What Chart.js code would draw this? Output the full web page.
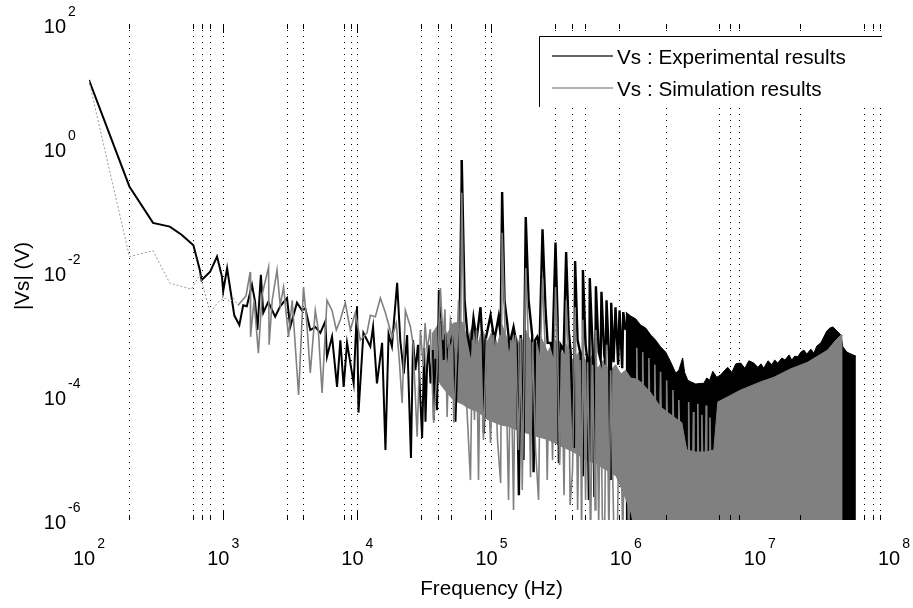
<!DOCTYPE html>
<html>
<head>
<meta charset="utf-8">
<script src="https://cdn.jsdelivr.net/npm/chart.js@4.4.0/dist/chart.umd.min.js"></script>
<style>
  html, body { margin: 0; padding: 0; background: #fff; }
  canvas { display: block; }
</style>
</head>
<body>
<canvas id="vsChart" width="913" height="608"></canvas>
<script>
// Dotted vertical grid lines (Hz)
const gridFreqs = [200, 600, 700, 800, 1000, 3000, 4000, 8000, 9000, 10000,
  30000, 40000, 50000, 90000, 100000, 300000, 400000, 500000, 900000,
  2e6, 5e6, 6e6, 7e6, 2e7, 6e7, 7e7, 8e7];
const longTickFreqs = [1000, 10000, 100000];

// Tick label exponents
const xTickExp = [2, 3, 4, 5, 6, 7, 8];
const yTickExp = [2, 0, -2, -4, -6];

// Experimental |Vs| (black)
const expFreq = [
  100, 200, 300, 400, 490, 600, 670, 690, 800, 900,
  980, 1000, 1070, 1210, 1320, 1410, 1500, 1640, 1730, 1800,
  1910, 1990, 2170, 2440, 2660, 2990, 3160, 3550, 3870, 4090,
  4460, 4860, 5300, 5770, 5940, 6480, 7060, 7470, 7910, 8380,
  9390, 9950, 10200, 11100, 12500, 13100, 14000, 15300, 16200, 17100,
  18100, 19800, 20900, 22200, 23500, 24200, 25100, 26000, 27100, 28300,
  29500, 30400, 31500, 32200, 33100, 34000, 35100, 36500, 37200, 38200,
  39300, 40500, 42900, 44000, 45200, 46700, 48500, 50900, 52000, 53900,
  55500, 57500,
  60000, 63000, 66200, 69700, 73400, 77300, 82800, 85700, 87700, 90200, 98400, 105000, 113000, 117000,
  120000, 125000, 131000, 136000, 146000, 154000, 160000, 165000, 173000, 176000,
  180000, 189000, 201000, 206000, 211000, 219000, 228000,
  240000, 253000, 262000, 275000, 285000,
  300000, 311000, 318000, 327000, 345000,
  360000, 376000, 389000, 411000,
  420000, 438000, 462000, 475000,
  480000, 503000, 516000, 532000,
  540000, 568000, 585000,
  600000, 630000, 651000,
  660000, 692000, 709000,
  720000, 753000, 773000,
  780000, 813000,
  840000, 879000,
  900000, 942000,
  960000, 1000000
];
const expVal = [
  12.5, 0.24, 0.062, 0.054, 0.040, 0.027, 0.0108, 0.0074, 0.0101, 0.0177,
  0.0084, 0.0049, 0.0115, 0.0020, 0.0014, 0.0029, 0.0028, 0.0062, 0.0033, 0.00116,
  0.0090, 0.0022, 0.0033, 0.0019, 0.0028, 0.0038, 0.0013, 0.0032, 0.0024, 0.0026,
  0.00116, 0.0013, 0.00104, 0.0016, 0.00043, 0.00091, 0.00014, 0.00079, 0.00014, 0.00072,
  0.00016, 0.0028, 5.4e-5, 0.00104, 0.00063, 0.0013, 0.00016, 0.00072, 1.35e-5, 0.001,
  0.00063, 0.0067, 0.00079, 0.00023, 0.00096, 0.000125, 1.0e-5, 0.0008, 0.00026, 0.00067,
  8.7e-5, 2.1e-5, 0.0006, 3.85e-5, 0.0003, 0.00067, 0.00016, 0.00055, 4.1e-5, 0.0004,
  5.9e-5, 0.0051, 0.00116, 0.00038, 0.001, 0.00043, 0.00067, 0.00091, 0.00055, 3.85e-5,
  0.0003, 0.0009,
  0.64, 3.5e-3, 9.6e-4, 5.5e-4, 1.8e-3, 8e-4, 2.7e-3, 6.7e-4, 2.5e-5, 8e-4, 2.0e-3, 8e-4, 1.9e-3, 9.6e-4,
  0.195, 3.5e-3, 1.5e-3, 6.7e-4, 1.3e-3, 6.7e-4, 2.5e-6, 9.6e-4, 9.3e-6, 1.16e-3,
  0.077, 3.5e-3, 9.6e-4, 5.9e-6, 8e-4, 9e-4, 6e-4,
  0.049, 2.4e-3, 7.2e-4, 7.2e-4, 5.5e-4,
  0.03, 1.7e-3, 8.3e-6, 6.7e-4, 5.5e-4,
  0.021, 1.16e-3, 5.1e-4, 1.45e-5,
  0.015, 8e-4, 4.6e-4, 5.3e-6,
  0.0108, 6.7e-4, 4.1e-4, 2.1e-6,
  8e-3, 5.5e-4, 2.35e-6,
  5.9e-3, 5.1e-4, 3.8e-4,
  4.8e-3, 4.6e-4, 3.2e-4,
  3.5e-3, 3.8e-4, 4.4e-6,
  3.2e-3, 3.5e-4,
  2.7e-3, 3.2e-4,
  2.4e-3, 2.8e-4,
  2.26e-3, 1.16e-3
];

// Experimental: dense high-frequency part, upper envelope
const expBandFreq = [
  1.0e6, 1.09e6, 1.19e6, 1.29e6, 1.41e6, 1.54e6, 1.67e6, 1.82e6, 1.99e6, 2.17e6,
  2.36e6, 2.49e6, 2.66e6, 2.75e6, 2.9e6, 3.05e6, 3.33e6, 3.63e6, 3.82e6, 4.02e6,
  4.23e6, 4.46e6, 4.78e6, 5.12e6, 5.48e6, 5.77e6, 6.18e6, 6.62e6, 7.2e6, 7.73e6,
  8.28e6, 9.02e6, 9.66e6, 1.02e7, 1.07e7, 1.15e7, 1.23e7, 1.29e7, 1.36e7, 1.46e7,
  1.54e7, 1.65e7, 1.73e7, 1.82e7, 1.92e7, 2.02e7, 2.13e7, 2.24e7, 2.4e7, 2.53e7,
  2.66e7, 2.85e7, 3.0e7, 3.16e7, 3.33e7, 3.51e7, 3.69e7, 3.89e7, 4.02e7, 4.16e7,
  4.46e7, 4.78e7, 5.2e7
];
const expBandTop = [
  2.26e-3, 1.95e-3, 1.75e-3, 1.4e-3, 1.25e-3, 9.6e-4, 8.0e-4, 6.2e-4, 5.1e-4, 3.5e-4,
  2.35e-4, 2.6e-4, 4.1e-4, 2.4e-4, 1.8e-4, 1.7e-4, 1.56e-4, 1.6e-4, 1.6e-4, 1.95e-4,
  1.8e-4, 2.5e-4, 2.0e-4, 2.2e-4, 2.6e-4, 2.9e-4, 2.4e-4, 3.3e-4, 3.4e-4, 2.8e-4,
  3.7e-4, 3.4e-4, 2.9e-4, 3.3e-4, 2.8e-4, 3.7e-4, 3.2e-4, 3.8e-4, 3.4e-4, 4.1e-4,
  3.8e-4, 4.6e-4, 3.8e-4, 4.4e-4, 4.3e-4, 5.1e-4, 5.5e-4, 4.75e-4, 5.7e-4, 4.9e-4,
  6.4e-4, 7.2e-4, 9.0e-4, 1.12e-3, 1.25e-3, 1.3e-3, 1.16e-3, 1.04e-3, 9.6e-4, 6.2e-4,
  5.1e-4, 4.75e-4, 4.4e-4
];

// Simulation |Vs| (grey)
const simFreq = [
  100, 200, 300, 400, 580, 670, 800, 920, 1035, 1130,
  1190, 1290, 1390, 1480, 1590, 1600, 1700, 1830, 1950, 2180,
  2200, 2320, 2520, 2660, 2820, 3070, 3270, 3650, 3970, 4160,
  4460, 4860, 5120, 5460, 5940, 6480, 6970, 7470, 8130, 8870,
  9660, 10520, 11800, 12500, 13620, 14850, 16180, 18150, 19500, 20500,
  21570, 22800, 24880, 26000, 27920, 29520, 31000, 32000, 33120, 35000,
  37070, 39000, 41600, 43500, 45000, 46700, 48000, 49400, 51000, 52300,
  54500, 56800, 58500,
  60000, 62300, 65100, 69700, 72100, 74700, 77300, 80000, 82800, 87100,
  91800, 98400, 103500, 110900, 117000, 120000, 126200, 134000, 139000, 146000,
  151000, 158900, 165000, 169400, 176200, 180000, 188800, 195300, 202300, 213000,
  224300, 232300, 240000, 250600, 260300, 271000, 285200, 300000, 311000, 321700,
  332700, 347400, 360000, 375600, 385400, 402000, 420000, 438500, 457200, 469500,
  480000, 502700, 520000, 548000, 567400, 591800, 600000, 629500, 651000, 670000,
  696400, 720000, 750000, 773000, 813000, 866800, 902000, 951000, 1000000, 1052000,
  1127000, 1198000, 1210000, 1222000, 1327000, 1340000, 1353000, 1475000, 1490000, 1505000,
  1634000, 1650000, 1667000, 1802000, 1820000, 1838000, 2000000, 2020000, 2040000, 2228000,
  2250000, 2272000, 2465000, 2490000, 2515000, 2920000, 2950000, 2980000, 3170000, 3200000,
  3230000, 3415000, 3450000, 3485000, 3660000, 3700000, 3740000, 3940000, 3980000, 4020000,
  4210000, 4250000, 4290000
];
const simVal = [
  12, 0.0177, 0.022, 0.0066, 0.0053, 0.009, 0.0022, 0.0033, 0.0038, 0.0033,
  0.0038, 0.0029, 0.0035, 0.0041, 0.010, 0.0009, 0.0035, 0.00049, 0.0043, 0.012,
  0.00067, 0.0035, 0.0108, 0.0029, 0.0057, 0.0009, 0.0035, 0.000104, 0.0057, 0.002,
  0.000235, 0.0024, 0.00116, 0.000112, 0.0035, 0.0024, 0.00116, 0.0017, 0.0032, 0.00116,
  0.0022, 0.0008, 0.00104, 0.002, 0.0019, 0.0038, 0.0022, 0.0009, 0.0015, 0.0004,
  7.7e-5, 0.0024, 0.0013, 0.0007, 2.2e-5, 0.00116, 0.0003, 0.0015, 0.00055, 0.0012,
  3.7e-5, 0.0002, 0.0055, 0.0008, 0.0025, 4.6e-5, 0.0005, 0.0017, 0.0012, 3.7e-5,
  0.0003, 0.0035, 8.6e-5,
  0.19, 0.0017, 8.6e-5, 4.4e-6, 8e-4, 4.1e-5, 1.16e-3, 4.4e-6, 9.6e-4, 1.95e-5,
  8.6e-4, 1.75e-5, 9.6e-4, 1.95e-5, 3.95e-6, 0.043, 1.16e-3, 2.1e-6, 8e-4, 1.45e-6,
  9.6e-4, 1.35e-5, 8.6e-4, 3.05e-6, 8e-4, 0.0116, 6.7e-4, 4.9e-6, 7.4e-4, 1.35e-5,
  2.1e-6, 6.7e-4, 0.008, 6.7e-4, 4.4e-6, 6e-4, 9.3e-6, 0.0057, 5.5e-4, 7.7e-6,
  5.1e-4, 2.5e-6, 0.0035, 4.6e-4, 1.75e-6, 6.4e-6, 0.0027, 1.45e-6, 3.8e-4, 5e-7,
  0.0017, 2.1e-6, 3.5e-4, 5e-7, 3.2e-4, 1.45e-6, 0.00116, 8e-7, 2.8e-4, 1.1e-6,
  5e-7, 6.7e-4, 5e-7, 2.6e-4, 1e-6, 5e-7, 2.45e-4, 5e-7, 2.2e-4, 5e-7,
  1.6e-4, 1.5e-4, 6e-4, 1.5e-4, 1.3e-4, 5.1e-4, 1.3e-4, 1.0e-4, 4.1e-4, 1.0e-4,
  7.5e-5, 3.2e-4, 7.5e-5, 5.5e-5, 2.45e-4, 5.5e-5, 4.8e-5, 1.8e-4, 4.8e-5, 4e-5,
  1.25e-4, 4e-5, 3.3e-5, 8.6e-5, 3.3e-5, 1.1e-5, 8e-5, 1.1e-5, 1.1e-5, 5.5e-5,
  1.1e-5, 1.1e-5, 7.5e-5, 1.1e-5, 1.1e-5, 5e-5, 1.1e-5, 1.1e-5, 7e-5, 1.1e-5,
  1.1e-5, 4.5e-5, 1.1e-5
];

// Simulation: dense part, upper and lower limits
const simBandFreq = [
  36000, 41600, 46700, 52000,
  60800, 66200, 72100, 78700, 85700, 93300, 101700, 110900, 120000, 134000,
  146000, 165000, 180000, 206000, 232000, 262000, 300000, 332700, 360000, 402000,
  462000, 516000, 567000, 618000, 685000, 760000, 842000, 918000, 1000000, 1090000,
  1180000, 1290000, 1540000, 1820000, 2280000, 2620000, 2850000, 3330000, 3950000, 4540000,
  4860000, 7200000, 10200000, 12700000, 16700000, 22700000, 32000000, 36900000, 40200000, 41400000
];
const simBandTop = [
  1.0e-3, 1.6e-3, 1.0e-3, 1.5e-3,
  1.56e-3, 8e-4, 1.35e-3, 6.7e-4, 1.16e-3, 7.4e-4, 1.16e-3, 6.7e-4, 1.4e-3, 7.2e-4,
  1.08e-3, 6.4e-4, 1.16e-3, 6.0e-4, 9.3e-4, 5.1e-4, 8e-4, 4.4e-4, 6.9e-4, 3.8e-4,
  5.5e-4, 3.3e-4, 4.6e-4, 2.8e-4, 3.8e-4, 2.45e-4, 3.2e-4, 2.26e-4, 2.6e-4, 1.95e-4,
  1.9e-4, 1.7e-4, 1.12e-4, 6.65e-5, 4.6e-5, 3.7e-5, 1.35e-5, 1.25e-5, 1.25e-5, 1.35e-5,
  8e-5, 1.25e-4, 1.7e-4, 2.0e-4, 2.7e-4, 3.5e-4, 5.5e-4, 8e-4, 9.6e-4, 9.6e-4
];
const simBandBottom = [
  2.5e-4, 1.5e-4, 1.1e-4, 8.5e-5,
  7.2e-5, 6.4e-5, 5.9e-5, 5.5e-5, 4.75e-5, 4.1e-5, 3.8e-5, 3.5e-5, 3.3e-5, 3.2e-5,
  2.9e-5, 2.7e-5, 2.5e-5, 2.26e-5, 2.1e-5, 1.95e-5, 1.7e-5, 1.5e-5, 1.4e-5, 1.25e-5,
  1.04e-5, 9e-6, 8.3e-6, 7.7e-6, 6.65e-6, 5.9e-6, 5.1e-6, 3.3e-6, 2.1e-6, 1.3e-6,
  5e-7, 5e-7, 5e-7, 5e-7, 5e-7, 5e-7, 5e-7, 5e-7, 5e-7, 5e-7,
  5e-7, 5e-7, 5e-7, 5e-7, 5e-7, 5e-7, 5e-7, 5e-7, 5e-7, 5e-7
];

const BLACK = '#000000';
const GREY = '#808080';
const FONT = '"Liberation Sans", Arial, Helvetica, sans-serif';

function toPoints(xs, ys) {
  return xs.map((x, i) => ({ x: x, y: ys[i] }));
}

// Tick marks, tick labels, axis titles and the legend box
const decorations = {
  id: 'decorations',
  afterDraw(chart) {
    const ctx = chart.ctx;
    const xScale = chart.scales.x;
    const yScale = chart.scales.y;
    const area = chart.chartArea;
    ctx.save();

    // small solid ticks at both ends of each grid line
    ctx.strokeStyle = BLACK;
    ctx.lineWidth = 1;
    gridFreqs.forEach(f => {
      const px = Math.round(xScale.getPixelForValue(f) - 0.5) + 0.5;
      const len = longTickFreqs.includes(f) ? 9 : 5;
      ctx.beginPath();
      ctx.moveTo(px, area.top);
      ctx.lineTo(px, area.top + len);
      ctx.moveTo(px, area.bottom);
      ctx.lineTo(px, area.bottom - len);
      ctx.stroke();
    });

    ctx.fillStyle = BLACK;
    ctx.textBaseline = 'alphabetic';
    const big = '20px ' + FONT;
    const text = '20.7px ' + FONT;
    const small = '14px ' + FONT;

    // x tick labels 10^n
    xTickExp.forEach(e => {
      const px = xScale.getPixelForValue(Math.pow(10, e));
      ctx.font = big;
      const w1 = ctx.measureText('10').width;
      ctx.font = small;
      const w2 = ctx.measureText(String(e)).width;
      const x0 = px - (w1 + 2 + w2) / 2;
      ctx.textAlign = 'left';
      ctx.font = big;
      ctx.fillText('10', x0, 565);
      ctx.font = small;
      ctx.fillText(String(e), x0 + w1 + 2, 548);
    });

    // y tick labels 10^n
    yTickExp.forEach(e => {
      const py = yScale.getPixelForValue(Math.pow(10, e));
      ctx.font = big;
      ctx.textAlign = 'right';
      ctx.fillText('10', 66, py + 9);
      ctx.font = small;
      ctx.textAlign = 'left';
      ctx.fillText(String(e), 68, py - 8);
    });

    // axis titles
    ctx.font = text;
    ctx.textAlign = 'center';
    ctx.fillText('Frequency (Hz)', (area.left + area.right) / 2, 595);
    ctx.save();
    ctx.translate(29, 276);
    ctx.rotate(-Math.PI / 2);
    ctx.fillText('|Vs| (V)', 0, 0);
    ctx.restore();

    // legend
    ctx.fillStyle = '#ffffff';
    ctx.fillRect(540, 37, 345, 70);
    ctx.strokeStyle = BLACK;
    ctx.lineWidth = 1;
    ctx.beginPath();
    ctx.moveTo(539.5, 107);
    ctx.lineTo(539.5, 36.5);
    ctx.lineTo(882, 36.5);
    ctx.stroke();

    ctx.lineWidth = 1.5;
    ctx.strokeStyle = '#333333';
    ctx.beginPath();
    ctx.moveTo(552, 56);
    ctx.lineTo(613, 56);
    ctx.stroke();
    ctx.strokeStyle = '#999999';
    ctx.beginPath();
    ctx.moveTo(552, 88);
    ctx.lineTo(613, 88);
    ctx.stroke();

    ctx.fillStyle = BLACK;
    ctx.font = text;
    ctx.textAlign = 'left';
    ctx.fillText('Vs : Experimental results', 617, 64);
    ctx.fillText('Vs : Simulation results', 617, 96);

    ctx.restore();
  }
};

const lowFreqLimit = 1200;

new Chart(document.getElementById('vsChart'), {
  type: 'line',
  data: {
    datasets: [
      {
        label: 'Vs : Experimental results (dense)',
        data: toPoints(expBandFreq, expBandTop),
        borderColor: BLACK,
        backgroundColor: BLACK,
        borderWidth: 1,
        fill: 'start',
        pointRadius: 0,
        order: 5
      },
      {
        label: 'sim lower',
        data: toPoints(simBandFreq, simBandBottom),
        borderColor: GREY,
        borderWidth: 0,
        fill: false,
        pointRadius: 0,
        order: 4
      },
      {
        label: 'sim upper',
        data: toPoints(simBandFreq, simBandTop),
        borderColor: GREY,
        backgroundColor: GREY,
        borderWidth: 1,
        fill: '-1',
        pointRadius: 0,
        order: 3
      },
      {
        label: 'Vs : Experimental results',
        data: toPoints(expFreq, expVal),
        borderColor: BLACK,
        borderWidth: 2,
        fill: false,
        pointRadius: 0,
        order: 2,
        segment: {
          borderWidth: c => c.p0.parsed.x >= 60000 ? 2.4 : undefined
        }
      },
      {
        label: 'Vs : Simulation results',
        data: toPoints(simFreq, simVal),
        borderColor: GREY,
        borderWidth: 1.6,
        fill: false,
        pointRadius: 0,
        order: 1,
        segment: {
          borderDash: c => c.p0.parsed.x < lowFreqLimit ? [2, 2] : undefined,
          borderColor: c => c.p0.parsed.x < lowFreqLimit ? '#9a9a9a' : undefined,
          borderWidth: c => c.p0.parsed.x < lowFreqLimit ? 1 : undefined
        }
      }
    ]
  },
  options: {
    responsive: false,
    animation: false,
    devicePixelRatio: 1,
    layout: { padding: { left: 89, right: 19, top: 24, bottom: 88 } },
    elements: { line: { tension: 0 } },
    plugins: {
      legend: { display: false },
      tooltip: { enabled: false }
    },
    scales: {
      x: {
        type: 'logarithmic',
        min: 100,
        max: 1e8,
        afterBuildTicks: scale => {
          scale.ticks = gridFreqs.map(v => ({ value: v }));
        },
        ticks: { display: false },
        grid: { color: BLACK, lineWidth: 1, drawTicks: false },
        border: { display: false, dash: [1, 5] }
      },
      y: {
        type: 'logarithmic',
        min: 1e-6,
        max: 100,
        ticks: { display: false },
        grid: { display: false, drawTicks: false },
        border: { display: false }
      }
    }
  },
  plugins: [decorations]
});
</script>
</body>
</html>
